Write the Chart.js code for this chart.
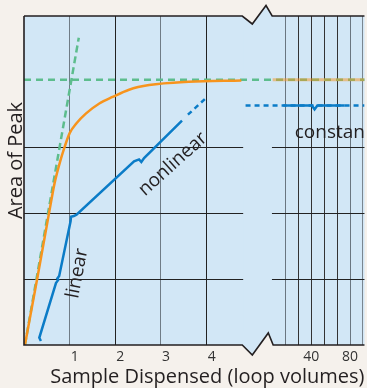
<!DOCTYPE html>
<html>
<head>
<meta charset="utf-8">
<script src="https://cdn.jsdelivr.net/npm/chart.js@4.4.1/dist/chart.umd.min.js"></script>
<style>
  html, body { margin: 0; padding: 0; background: #f5f1ec; }
</style>
</head>
<body>
<canvas id="peakChart" width="367" height="388"></canvas>
<script>
// left part of the x axis is in loop volumes 0..4, right part is 40, 80 ...
const leftTicks = [1, 2, 3, 4];
const leftLabels = ['1', '2', '3', '4'];
const rightTicks = [40 / 3, 80 / 3, 40, 160 / 3, 200 / 3, 80, 280 / 3];
const rightLabels = ['', '', '40', '', '', '80', ''];
const peakTicks = [0, 1, 2, 3, 4, 5];

// orange: actual peak area
const orangeX = [0.02, 0.30, 0.56, 0.67, 0.78, 0.89, 1.00, 1.15, 1.36, 1.65, 1.94, 2.30, 2.74, 3.61, 4.76];
const orangeY = [0, 1.05, 2.05, 2.46, 2.76, 3.01, 3.22, 3.37, 3.52, 3.67, 3.77, 3.88, 3.95, 4.00, 4.02];
const orangeRightX = [0, 95];
const orangeRightY = [4.03, 4.03];

// green dashed guides
const slopeX = [0.02, 1.2];
const slopeY = [0, 4.67];
const plateauX = [0, 7.5];
const plateauY = [4.03, 4.03];

// blue: linear / nonlinear / constant regions (with brace marks)
const blueX = [0.37, 0.335, 0.70, 0.75, 0.73, 0.77, 1.02, 1.03, 1.09, 1.15, 2.41, 2.52, 2.57, 2.63, 3.46];
const blueY = [0.06, 0.11, 0.94, 0.99, 1.01, 1.05, 1.88, 1.95, 1.96, 1.98, 2.79, 2.82, 2.78, 2.84, 3.41];
const blueDotX = [3.59, 3.98];
const blueDotY = [3.50, 3.75];
const constX = [11, 40.5, 43.3, 46.2, 74.4];
const constY = [3.64, 3.64, 3.58, 3.64, 3.64];
const constDotX = [-28, 95];
const constDotY = [3.64, 3.64];

const noteText = ['linear', 'nonlinear', 'constant'];
const noteAxis = ['x', 'x', 'x2'];
const noteX = [1.17, 3.26, 22.8];
const noteY = [1.09, 2.75, 3.14];

const pts = (xs, ys) => xs.map((x, i) => ({ x: x, y: ys[i] }));

const ORANGE = '#f7941d';
const GREEN = '#5dbd8d';
const BLUE = '#0b7cc7';
const INK = '#231f20';
const plotBg = '#d2e7f6';
const leftGrid = ['#707c86', '#222', '#707c86', '#222'];
const rightGrid = ['#6a7680', '#333', '#333', '#333', '#333', '#6a7680', '#7a8690'];

Chart.defaults.font.family = '"Open Sans"';

// break between x = 4 and x = 40, with zigzags on top and bottom borders
function outline(ctx, chart) {
  const a = chart.chartArea;
  const sx = chart.scales.x;
  const px = v => sx.getPixelForValue(v);
  ctx.moveTo(a.left, a.top);
  ctx.lineTo(px(4.78), a.top);
  ctx.lineTo(px(5.0), a.top + 8);
  ctx.lineTo(px(5.3), a.top - 10.5);
  ctx.lineTo(px(5.435), a.top);
  ctx.lineTo(a.right, a.top);
  ctx.lineTo(a.right, a.bottom);
  ctx.lineTo(px(5.457), a.bottom);
  ctx.lineTo(px(5.35), a.bottom - 12);
  ctx.lineTo(px(5.0), a.bottom + 10);
  ctx.lineTo(px(4.78), a.bottom);
  ctx.lineTo(a.left, a.bottom);
  ctx.closePath();
}

const breakPlugin = {
  id: 'breakPlugin',
  beforeDraw(chart) {
    const ctx = chart.ctx;
    ctx.save();
    ctx.fillStyle = '#f5f1ec';
    ctx.fillRect(0, 0, chart.width, chart.height);
    ctx.fillStyle = plotBg;
    ctx.beginPath();
    outline(ctx, chart);
    ctx.fill();
    ctx.restore();
  },
  beforeDatasetsDraw(chart) {
    const ctx = chart.ctx, a = chart.chartArea, sx = chart.scales.x;
    const l = sx.getPixelForValue(4.8), r = sx.getPixelForValue(5.43);
    ctx.save();
    ctx.fillStyle = plotBg;
    ctx.fillRect(l, a.top + 14, r - l, a.bottom - a.top - 28);
    ctx.restore();
  },
  afterDatasetsDraw(chart) {
    const ctx = chart.ctx, a = chart.chartArea, sx = chart.scales.x;
    const px = v => sx.getPixelForValue(v);
    ctx.save();
    ctx.strokeStyle = INK;
    ctx.lineWidth = 1.6;
    ctx.lineJoin = 'miter';
    ctx.beginPath();
    ctx.moveTo(a.left, a.top);
    ctx.lineTo(px(4.78), a.top);
    ctx.lineTo(px(5.0), a.top + 8);
    ctx.lineTo(px(5.3), a.top - 10.5);
    ctx.lineTo(px(5.435), a.top);
    ctx.lineTo(a.right, a.top);
    ctx.moveTo(a.left, a.top);
    ctx.lineTo(a.left, a.bottom);
    ctx.lineTo(px(4.78), a.bottom);
    ctx.lineTo(px(5.0), a.bottom + 10);
    ctx.lineTo(px(5.35), a.bottom - 12);
    ctx.lineTo(px(5.457), a.bottom);
    ctx.lineTo(a.right, a.bottom);
    ctx.stroke();

    // region labels
    ctx.beginPath();
    ctx.rect(a.left, a.top, a.right - a.left, a.bottom - a.top);
    ctx.clip();
    ctx.fillStyle = INK;
    ctx.font = '19px "Open Sans"';
    const rot = [-79, -42, 0];
    noteText.forEach((t, i) => {
      const x = chart.scales[noteAxis[i]].getPixelForValue(noteX[i]);
      const y = chart.scales.y.getPixelForValue(noteY[i]);
      ctx.save();
      ctx.translate(x, y);
      ctx.rotate(rot[i] * Math.PI / 180);
      ctx.textAlign = i === 2 ? 'left' : 'center';
      ctx.textBaseline = i === 2 ? 'alphabetic' : 'middle';
      ctx.fillText(t, 0, 0);
      ctx.restore();
    });
    ctx.restore();
  },
  afterDraw(chart) {
    const ctx = chart.ctx, a = chart.chartArea;
    ctx.save();
    ctx.fillStyle = INK;
    ctx.font = '20px "Open Sans"';
    ctx.translate(a.left - 2.5, (a.top + a.bottom) / 2 - 20);
    ctx.rotate(-Math.PI / 2);
    ctx.textAlign = 'center';
    ctx.textBaseline = 'alphabetic';
    ctx.fillText('Area of Peak', 0, 0);
    ctx.restore();
  }
};

const ctx = document.getElementById('peakChart').getContext('2d');

new Chart(ctx, {
  type: 'line',
  data: {
    datasets: [
      {
        data: pts(blueX, blueY), xAxisID: 'x',
        borderColor: BLUE, borderWidth: 2.5, pointRadius: 0, tension: 0, order: 0
      },
      {
        data: pts(blueDotX, blueDotY), xAxisID: 'x',
        borderColor: BLUE, borderWidth: 2.5, borderDash: [5, 4], pointRadius: 0, order: 0
      },
      {
        data: pts(constX, constY), xAxisID: 'x2',
        borderColor: BLUE, borderWidth: 2.5, pointRadius: 0, tension: 0, order: 0
      },
      {
        data: pts(constDotX, constDotY), xAxisID: 'x2',
        borderColor: BLUE, borderWidth: 2.5, borderDash: [5, 4], pointRadius: 0, order: 1
      },
      {
        data: pts(orangeRightX, orangeRightY), xAxisID: 'x2',
        borderColor: 'rgba(247,148,29,0.5)', borderWidth: 3, pointRadius: 0, order: 1
      },
      {
        data: pts(orangeX, orangeY), xAxisID: 'x',
        borderColor: ORANGE, borderWidth: 2.5, pointRadius: 0,
        cubicInterpolationMode: 'monotone', order: 2
      },
      {
        data: pts(plateauX, plateauY), xAxisID: 'x',
        borderColor: GREEN, borderWidth: 2.5, borderDash: [7, 5], pointRadius: 0, order: 3
      },
      {
        data: pts(slopeX, slopeY), xAxisID: 'x',
        borderColor: GREEN, borderWidth: 2.5, borderDash: [7, 4], pointRadius: 0, order: 3
      }
    ]
  },
  options: {
    responsive: false,
    animation: false,
    events: [],
    layout: { padding: { top: 16, right: 0, left: 0, bottom: 0 } },
    plugins: { legend: { display: false }, tooltip: { enabled: false } },
    scales: {
      x: {
        type: 'linear', position: 'bottom',
        min: 0, max: 343 / 46,
        afterBuildTicks: s => { s.ticks = leftTicks.map(v => ({ value: v })); },
        afterFit: s => { s.height = 43; },
        grid: { color: c => leftGrid[c.index] || 'transparent', lineWidth: 1, drawTicks: false },
        border: { display: false },
        ticks: {
          autoSkip: false, maxRotation: 0, padding: 4, labelOffset: 5,
          color: '#333', font: { size: 14 },
          callback: (v, i) => leftLabels[i]
        },
        title: {
          display: true, text: 'Sample Dispensed (loop volumes)', align: 'end',
          color: INK, font: { size: 20, lineHeight: 1.1 }, padding: { top: 0, bottom: 0 }
        }
      },
      x2: {
        type: 'linear', position: { y: 0 },
        min: 40 - 289.5 / 0.975, max: 40 + 53.5 / 0.975,
        afterBuildTicks: s => { s.ticks = rightTicks.map(v => ({ value: v })); },
        grid: { color: c => rightGrid[c.index] || 'transparent', lineWidth: 1, drawTicks: false },
        border: { display: false },
        ticks: {
          autoSkip: false, maxRotation: 0, padding: 4,
          color: '#333', font: { size: 14 },
          callback: (v, i) => rightLabels[i]
        }
      },
      y: {
        type: 'linear', min: 0, max: 5,
        afterBuildTicks: s => { s.ticks = peakTicks.map(v => ({ value: v })); },
        afterFit: s => { s.width = 24; },
        grid: { color: c => (c.tick.value >= 1 && c.tick.value <= 3) ? '#222' : 'transparent', lineWidth: 1, drawTicks: false },
        border: { display: false },
        ticks: { display: false }
      }
    }
  },
  plugins: [breakPlugin]
});
</script>
</body>
</html>
